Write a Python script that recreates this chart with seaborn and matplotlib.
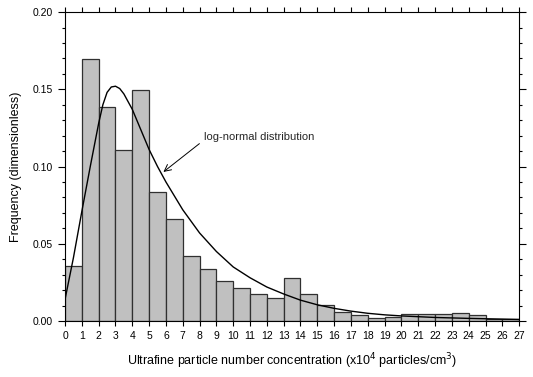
import matplotlib
matplotlib.use('Agg')
import matplotlib.pyplot as plt
import numpy as np
import pandas as pd
import seaborn as sns

# histogram: bin left edges (x10^4 particles/cm3) and frequencies
bin_edges = list(range(0, 28))
freq = [0.0358, 0.1696, 0.1383, 0.1109, 0.1493, 0.0837, 0.0658, 0.0419, 0.0335,
        0.0261, 0.0212, 0.0173, 0.0149, 0.0278, 0.0177, 0.0102, 0.0058, 0.0039,
        0.0021, 0.0028, 0.0043, 0.0047, 0.0043, 0.0050, 0.0037, 0.0015, 0.0015]

# log-normal curve
curve_x = [0, 0.5, 1, 1.5, 2, 2.25, 2.5, 2.75, 3, 3.25, 3.5, 4, 4.5, 5, 5.5, 6, 6.5,
           7, 8, 9, 10, 11, 12, 13, 14, 15, 16, 17, 18, 19, 20, 22, 24, 27]
curve_y = [0.014, 0.041, 0.071, 0.100, 0.128, 0.140, 0.148, 0.1515, 0.152, 0.1505,
           0.147, 0.137, 0.124, 0.111, 0.100, 0.090, 0.081, 0.072, 0.057, 0.045,
           0.035, 0.028, 0.022, 0.0175, 0.0135, 0.0105, 0.0082, 0.0064, 0.0050,
           0.0040, 0.0033, 0.0023, 0.0017, 0.0010]

bins = pd.DataFrame({'conc': [e + 0.5 for e in bin_edges[:-1]], 'freq': freq})
curve = pd.DataFrame({'x': curve_x, 'y': curve_y})

sns.set_style('ticks')
plt.rcParams['font.family'] = ['Liberation Sans', 'DejaVu Sans']

fig = plt.figure(figsize=(5.33, 3.77), dpi=100)
ax = fig.add_axes([0.122, 0.1485, 0.852, 0.8195])

sns.histplot(data=bins, x='conc', weights='freq', bins=bin_edges, stat='count',
             color='#c0c0c0', edgecolor='#303030', linewidth=0.9, alpha=1, ax=ax)
sns.lineplot(data=curve, x='x', y='y', color='black', linewidth=1.0, ax=ax)

ax.annotate('log-normal distribution', xy=(5.85, 0.0965), xytext=(8.25, 0.119),
            fontsize=8, va='center', ha='left',
            arrowprops=dict(arrowstyle='->', color='black', lw=0.7, relpos=(0, 0.2),
                            shrinkA=1, shrinkB=0, mutation_scale=12))

ax.set_xlim(0, 27)
ax.set_ylim(0, 0.20)
ax.set_xticks(range(0, 28))
ax.set_yticks([0, 0.05, 0.10, 0.15, 0.20])
ax.set_yticks(np.arange(0, 0.2001, 0.01), minor=True)
ax.set_yticklabels(['0.00', '0.05', '0.10', '0.15', '0.20'])
ax.tick_params(axis='x', direction='out', length=3.5, width=0.8, labelsize=7.5,
               top=True, pad=4, color='black', labelcolor='black')
ax.tick_params(axis='y', which='major', direction='out', length=5, width=0.8,
               labelsize=7.5, right=True, color='black', labelcolor='black')
ax.tick_params(axis='y', which='minor', direction='out', length=2.5, width=0.8,
               right=True, left=True, color='black')
for s in ax.spines.values():
    s.set_visible(True)
    s.set_linewidth(0.8)
    s.set_color('black')

ax.set_xlabel('Ultrafine particle number concentration (x10$^4$ particles/cm$^3$)',
              fontsize=9, labelpad=7, color='black')
ax.set_ylabel('Frequency (dimensionless)', fontsize=9, labelpad=8, color='black')

fig.savefig('out.png', dpi=100)
